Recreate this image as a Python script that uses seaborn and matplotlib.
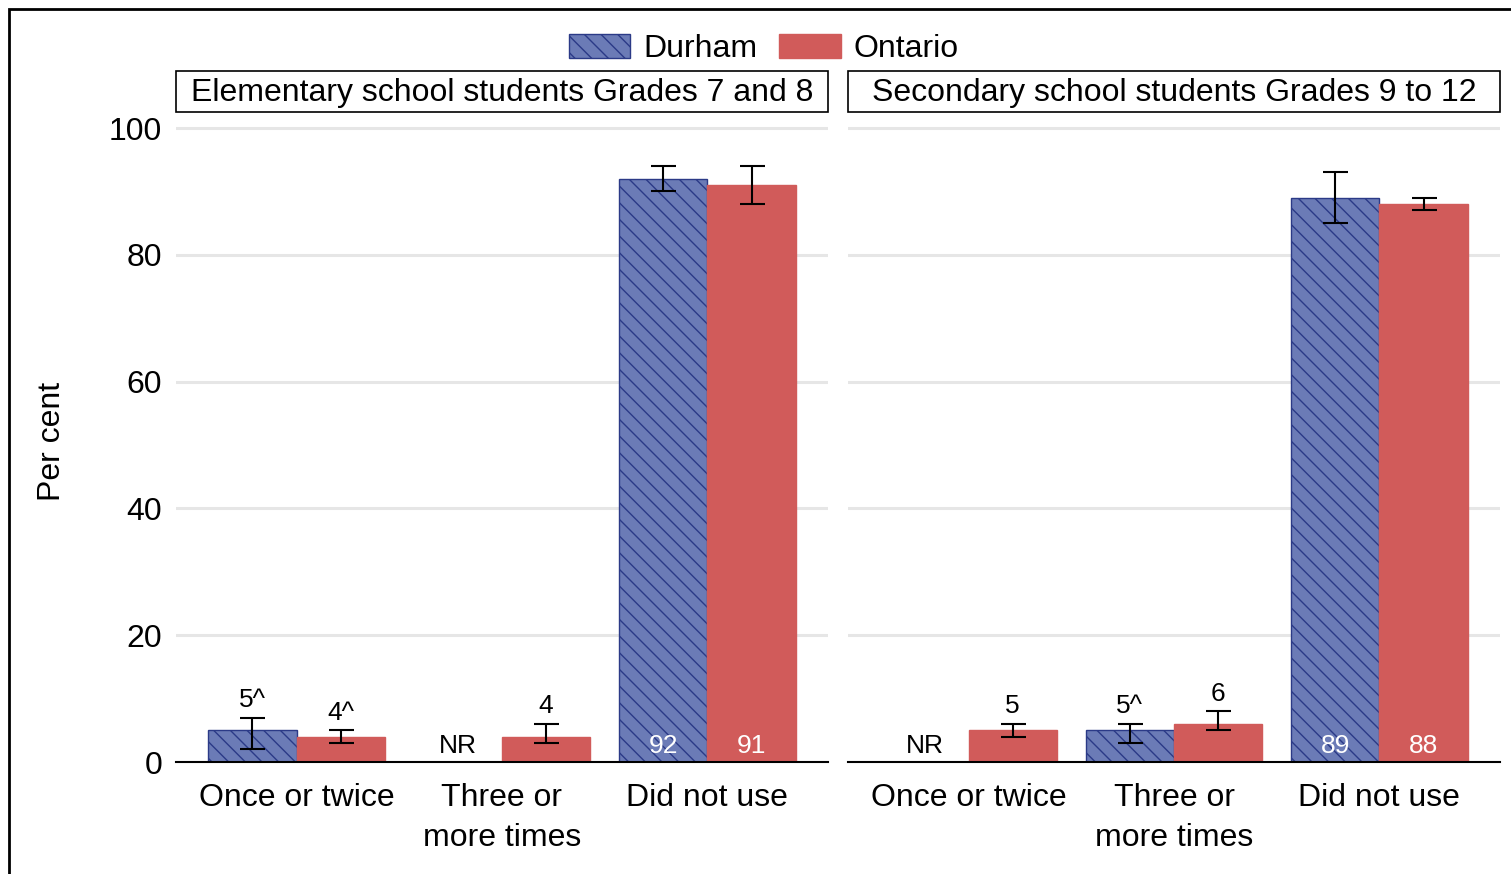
import numpy as np
import pandas as pd
import seaborn as sns
import matplotlib.pyplot as plt
from matplotlib.patches import Patch, Rectangle

# Categories and panels
categories = ['Once or twice', 'Three or\nmore times', 'Did not use']
panels = ['Elementary school students Grades 7 and 8',
          'Secondary school students Grades 9 to 12']
regions = ['Durham', 'Ontario']

# Elementary school students, Grades 7 and 8
elem_durham = [5, np.nan, 92]
elem_durham_lo = [2, np.nan, 90]
elem_durham_hi = [7, np.nan, 94]
elem_durham_lbl = ['5^', 'NR', '92']
elem_ontario = [4, 4, 91]
elem_ontario_lo = [3, 3, 88]
elem_ontario_hi = [5, 6, 94]
elem_ontario_lbl = ['4^', '4', '91']

# Secondary school students, Grades 9 to 12
sec_durham = [np.nan, 5, 89]
sec_durham_lo = [np.nan, 3, 85]
sec_durham_hi = [np.nan, 6, 93]
sec_durham_lbl = ['NR', '5^', '89']
sec_ontario = [5, 6, 88]
sec_ontario_lo = [4, 5, 87]
sec_ontario_hi = [6, 8, 89]
sec_ontario_lbl = ['5', '6', '88']

# Build long-form table
rows = []
series = [
    (panels[0], 'Durham', elem_durham, elem_durham_lo, elem_durham_hi, elem_durham_lbl),
    (panels[0], 'Ontario', elem_ontario, elem_ontario_lo, elem_ontario_hi, elem_ontario_lbl),
    (panels[1], 'Durham', sec_durham, sec_durham_lo, sec_durham_hi, sec_durham_lbl),
    (panels[1], 'Ontario', sec_ontario, sec_ontario_lo, sec_ontario_hi, sec_ontario_lbl),
]
for panel, region, vals, lo, hi, lbl in series:
    for cat, v, l, h, t in zip(categories, vals, lo, hi, lbl):
        rows.append(dict(panel=panel, region=region, category=cat,
                         value=v, lo=l, hi=h, label=t))
df = pd.DataFrame(rows)

colors = {'Durham': '#6b7bb6', 'Ontario': '#d15b5a'}
durham_edge = '#2b3a87'
FS = 23
BAR_W = 0.86

sns.set_style('white')
plt.rcParams['font.family'] = ['Liberation Sans', 'DejaVu Sans']
plt.rcParams['hatch.linewidth'] = 1.0
plt.rcParams['text.color'] = 'black'
plt.rcParams['xtick.color'] = 'black'
plt.rcParams['ytick.color'] = 'black'
plt.rcParams['axes.labelcolor'] = 'black'

fig = plt.figure(figsize=(15.11, 8.74), dpi=100)
ax_pos = [
    [176 / 1511, 1 - 762 / 874, 652 / 1511, (762 - 121.7) / 874],
    [848 / 1511, 1 - 762 / 874, 652 / 1511, (762 - 121.7) / 874],
]

for i, panel in enumerate(panels):
    ax = fig.add_axes(ax_pos[i])
    sub = df[df['panel'] == panel]
    sns.barplot(data=sub, x='category', y='value', hue='region',
                order=categories, hue_order=regions, palette=colors,
                width=BAR_W, errorbar=None, legend=False, ax=ax,
                saturation=1, linewidth=1)

    # hatch the Durham bars
    for bar in ax.containers[0]:
        bar.set_hatch('\\\\')
        bar.set_edgecolor(durham_edge)
        bar.set_linewidth(1)
    for bar in ax.containers[1]:
        bar.set_edgecolor(colors['Ontario'])

    # error bars and value labels
    for j, region in enumerate(regions):
        rs = sub[sub['region'] == region].set_index('category').loc[categories]
        xs = np.arange(len(categories)) + (j - 0.5) * BAR_W / 2
        v = rs['value'].values
        ok = ~np.isnan(v)
        ax.errorbar(xs[ok], v[ok],
                    yerr=[v[ok] - rs['lo'].values[ok], rs['hi'].values[ok] - v[ok]],
                    fmt='none', ecolor='black', elinewidth=1.5, capsize=9,
                    capthick=1.5, zorder=4)
        for x, val, hi, t in zip(xs, v, rs['hi'].values, rs['label'].values):
            if np.isnan(val):
                ax.text(x, 2.5, t, ha='center', va='center', fontsize=19, color='black')
            elif val > 50:
                ax.text(x, 2.5, t, ha='center', va='center', fontsize=19, color='white')
            else:
                ax.annotate(t, (x, hi), xytext=(0, 4), textcoords='offset points',
                            ha='center', va='bottom', fontsize=19)

    ax.set_xlim(-0.587, 2.587)
    ax.set_ylim(0, 101)
    ax.set_yticks([0, 20, 40, 60, 80, 100])
    ax.yaxis.grid(True, color='#e6e6e6', linewidth=2.2)
    ax.set_axisbelow(True)
    for s in ['top', 'right', 'left']:
        ax.spines[s].set_visible(False)
    ax.spines['bottom'].set_color('black')
    ax.spines['bottom'].set_linewidth(1.5)
    ax.spines['bottom'].set_zorder(5)
    ax.tick_params(axis='both', length=0, labelsize=FS)
    ax.tick_params(axis='x', pad=15)
    ax.tick_params(axis='y', pad=10)
    for lab in ax.get_xticklabels():
        lab.set_linespacing(1.45)
    ax.set_xlabel('')
    if i == 0:
        ax.set_ylabel('Per cent', fontsize=FS, labelpad=30)
    else:
        ax.set_ylabel('')
        ax.set_yticklabels([])

    # panel title box
    ax.add_patch(Rectangle((0, 1.015), 1, 0.064, transform=ax.transAxes,
                           fill=False, edgecolor='black', linewidth=1.2,
                           clip_on=False))
    ax.text(0.5, 1.045, panel, transform=ax.transAxes, ha='center',
            va='center', fontsize=FS)

# legend
handles = [Patch(facecolor=colors['Durham'], edgecolor=durham_edge, hatch='\\\\'),
           Patch(facecolor=colors['Ontario'], edgecolor=colors['Ontario'])]
fig.legend(handles, regions, loc='center', bbox_to_anchor=(764 / 1511, 1 - 49 / 874),
           ncol=2, frameon=False, fontsize=FS, handlelength=1.92, handleheight=0.77,
           handletextpad=0.42, columnspacing=0.67, borderpad=0)

# outer frame
fig.patches.append(Rectangle((9 / 1511, -0.05), 1.1, 1.05 - 9 / 874, fill=False,
                             edgecolor='black', linewidth=2,
                             transform=fig.transFigure, figure=fig))

fig.savefig('out.png', dpi=100)
